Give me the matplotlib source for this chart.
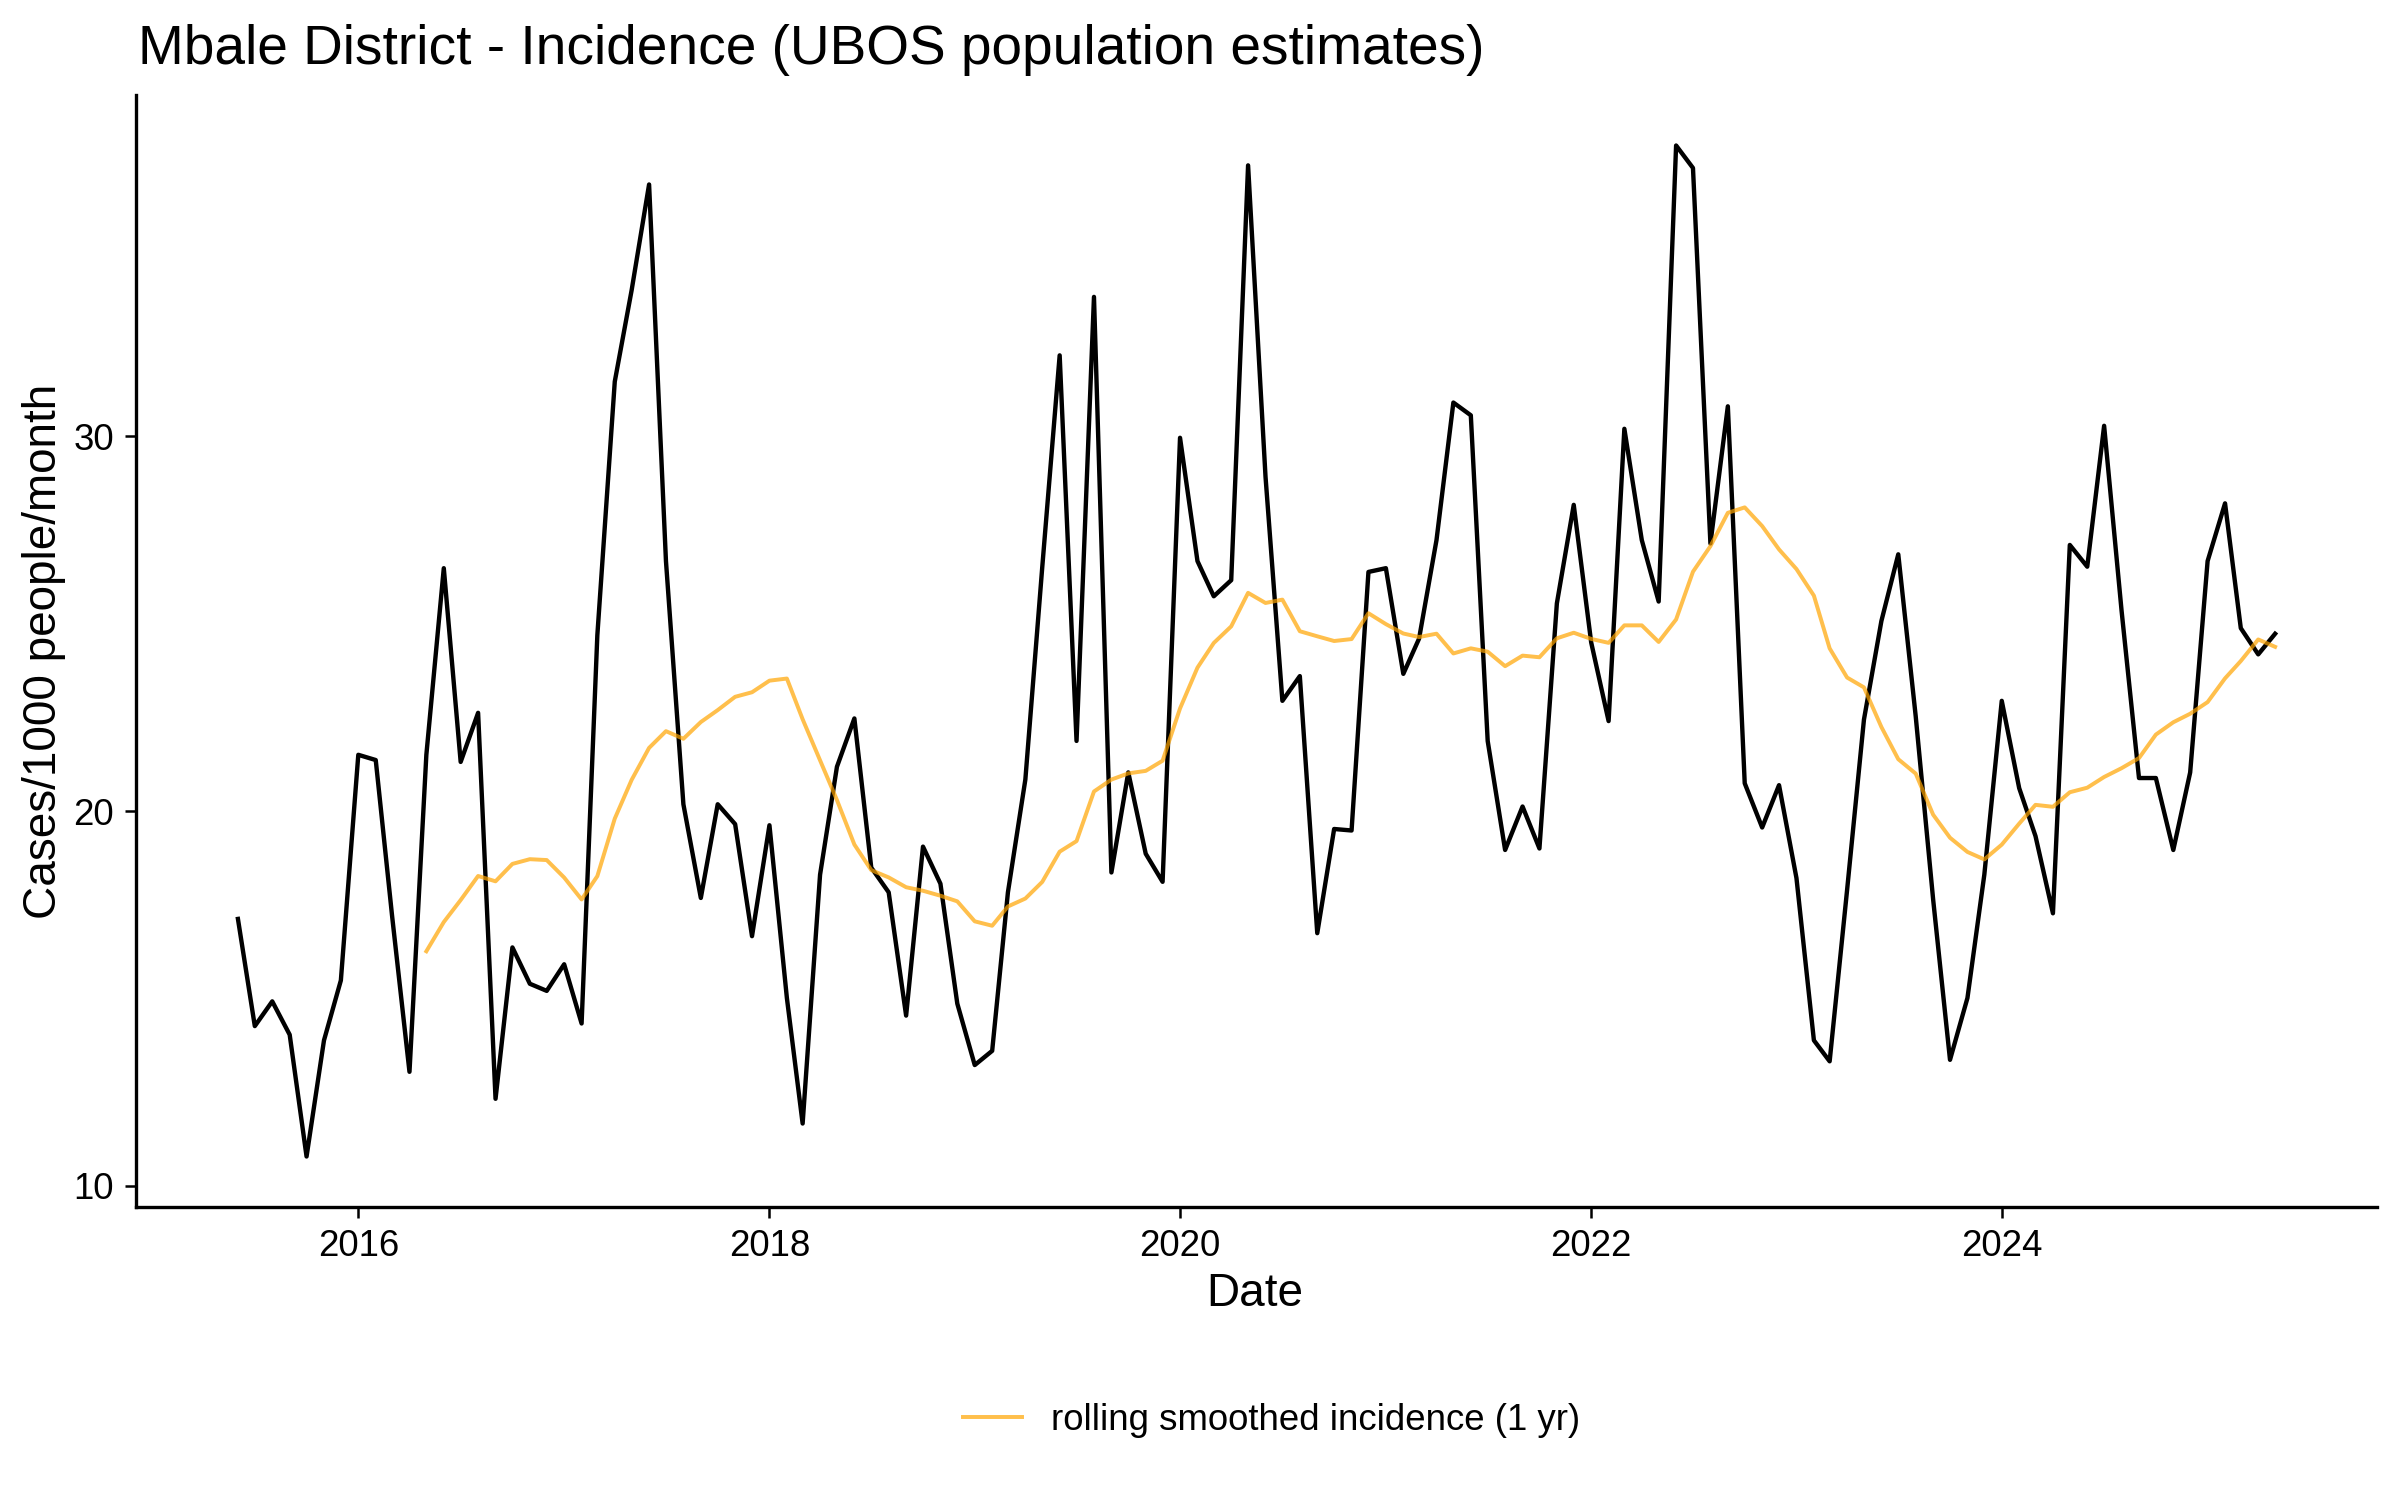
import matplotlib
matplotlib.use("Agg")
import matplotlib.pyplot as plt
import matplotlib.dates as mdates
import pandas as pd
import numpy as np

plt.rcParams['font.family'] = ['Liberation Sans', 'DejaVu Sans']

# Monthly incidence (cases / 1000 people / month), Jun 2015 - May 2025
start_month = "2015-06-01"
incidence = [
    17.12, 14.26, 14.92, 14.03, 10.78, 13.88, 15.48, 21.50, 21.36, 17.21,
    13.04, 21.50, 26.48, 21.31, 22.62, 12.32, 16.36, 15.39, 15.20, 15.91,
    14.33, 24.69, 31.46, 33.90, 36.72, 26.67, 20.18, 17.68, 20.18, 19.65,
    16.66, 19.62, 15.01, 11.66, 18.30, 21.18, 22.47, 18.49, 17.83, 14.54,
    19.05, 18.06, 14.86, 13.22, 13.60, 17.83, 20.84, 26.50, 32.16, 21.87,
    33.72, 18.36, 21.03, 18.86, 18.11, 29.96, 26.67, 25.73, 26.16, 37.23,
    28.92, 22.94, 23.60, 16.74, 19.52, 19.48, 26.38, 26.48, 23.66, 24.60,
    27.23, 30.90, 30.56, 21.87, 18.96, 20.12, 19.00, 25.54, 28.17, 24.50,
    22.40, 30.20, 27.23, 25.59, 37.76, 37.16, 27.14, 30.80, 20.74, 19.56,
    20.69, 18.21, 13.88, 13.32, 17.89, 22.44, 25.07, 26.85, 22.53, 17.64,
    13.36, 15.01, 18.30, 22.94, 20.61, 19.33, 17.27, 27.10, 26.52, 30.28,
    25.35, 20.88, 20.88, 18.96, 21.03, 26.67, 28.21, 24.88, 24.18, 24.73,
]
rolling_window = 12  # 1 year trailing window
legend_label = "rolling smoothed incidence (1 yr)"
title = "Mbale District - Incidence (UBOS population estimates)"
x_label = "Date"
y_label = "Cases/1000 people/month"
x_tick_years = [2016, 2018, 2020, 2022, 2024]
y_ticks = [10, 20, 30]

dates = pd.date_range(start_month, periods=len(incidence), freq="MS")
series = pd.Series(incidence, index=dates)
smoothed = series.rolling(rolling_window).mean()

fig = plt.figure(figsize=(8, 5), dpi=300)
ax = fig.add_axes([0.0567, 0.1953, 0.9337, 0.7414])

ax.plot(series.index, series.values, color="black", lw=1.05, zorder=2)
ax.plot(smoothed.index, smoothed.values, color="orange", alpha=0.7, lw=0.95,
        zorder=3, label=legend_label)

# ggplot-like 5% expansion
span = dates[-1] - dates[0]
ax.set_xlim(dates[0] - span * 0.05, dates[-1] + span * 0.05)
ymin, ymax = min(incidence), max(incidence)
yr = ymax - ymin
ax.set_ylim(ymin - 0.05 * yr, ymax + 0.05 * yr)

ax.set_xticks([pd.Timestamp(f"{y}-01-01") for y in x_tick_years])
ax.xaxis.set_major_formatter(mdates.DateFormatter("%Y"))
ax.set_yticks(y_ticks)

for s in ["top", "right"]:
    ax.spines[s].set_visible(False)
for s in ["left", "bottom"]:
    ax.spines[s].set_linewidth(0.8)
    ax.spines[s].set_color("black")
ax.tick_params(axis="both", length=2.75, width=0.6, color="black",
               labelsize=8.8, labelcolor="black", pad=2.5)

fig.text(0.0575, 0.957, title, fontsize=13.2, ha="left", va="baseline")
fig.text(0.523, 0.1375, x_label, fontsize=11, ha="center", va="center")
fig.text(0.0185, 0.5658, y_label, fontsize=11, ha="center", va="center",
         rotation=90)

handles, labels = ax.get_legend_handles_labels()
fig.legend(handles, labels, loc="center", bbox_to_anchor=(0.53, 0.0533),
           frameon=False, fontsize=8.8, handlelength=1.6, handletextpad=0.8)

fig.savefig("out.png", dpi=300)
